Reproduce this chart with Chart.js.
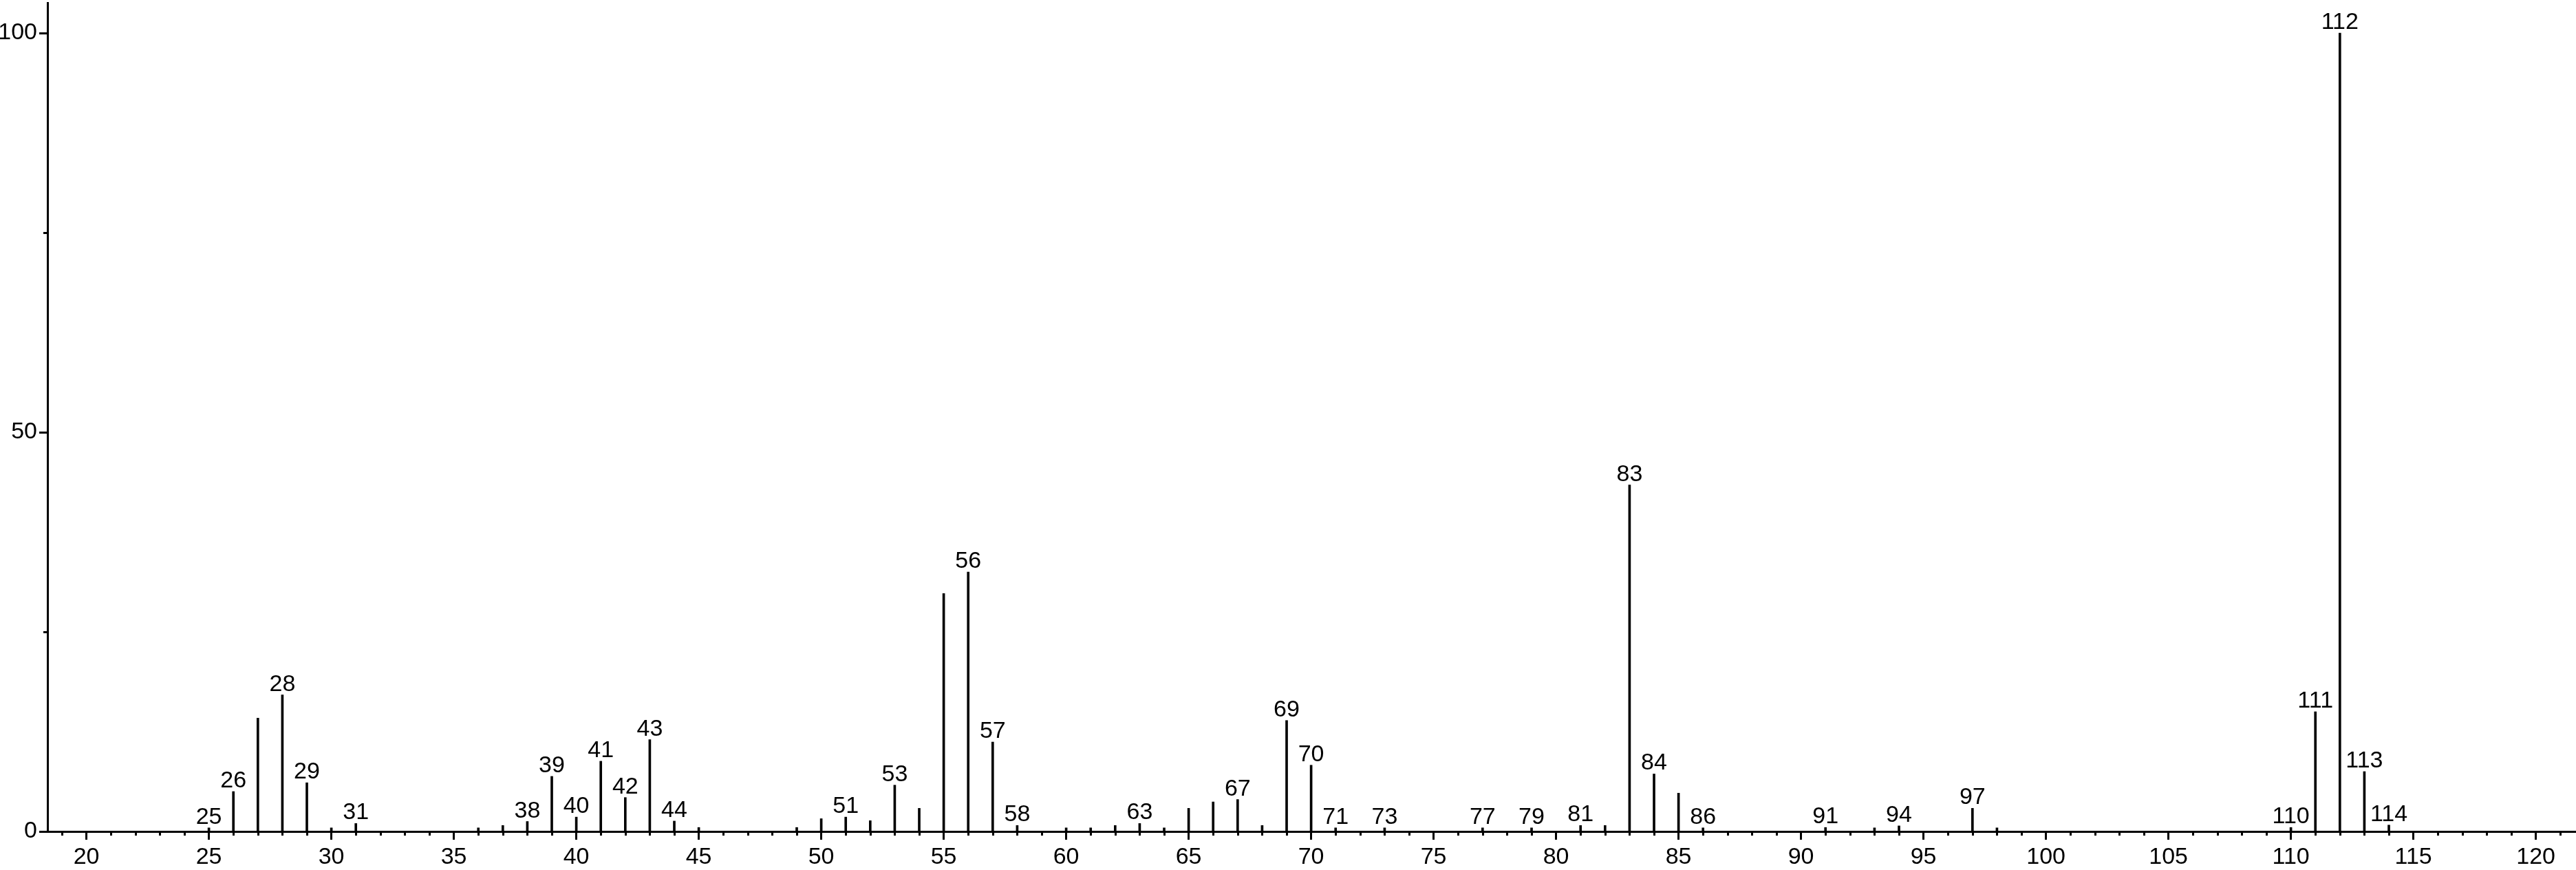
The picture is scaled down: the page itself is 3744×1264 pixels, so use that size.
<!DOCTYPE html>
<html>
<head>
<meta charset="utf-8">
<script src="https://cdn.jsdelivr.net/npm/chart.js@4.4.0/dist/chart.umd.min.js"></script>
<style>
  html, body { margin: 0; padding: 0; background: #fff; }
</style>
</head>
<body>
<canvas id="spectrum" width="3744" height="1264"></canvas>
<script>
// m/z values and relative intensities
const masses = [
  25, 26, 27, 28, 29, 30, 31, 36, 37, 38, 39, 40, 41, 42, 43, 44, 45,
  49, 50, 51, 52, 53, 54, 55, 56, 57, 58, 60, 61, 62, 63, 64, 65, 66, 67, 68,
  69, 70, 71, 73, 77, 79, 81, 82, 83, 84, 85, 86, 91, 93, 94, 97, 98,
  110, 111, 112, 113, 114
];
const intensities = [
  0.45, 5.0, 14.2, 17.1, 6.1, 0.45, 1.0, 0.45, 0.75, 1.25, 6.9, 1.8, 8.8, 4.25, 11.5, 1.3, 0.5,
  0.5, 1.6, 1.8, 1.35, 5.8, 2.9, 29.8, 32.5, 11.2, 0.75, 0.45, 0.45, 0.75, 1.0, 0.45, 2.9, 3.7, 4.0, 0.75,
  13.9, 8.3, 0.45, 0.45, 0.45, 0.45, 0.75, 0.75, 43.4, 7.2, 4.8, 0.45, 0.5, 0.45, 0.7, 2.9, 0.45,
  0.5, 15.0, 100, 7.5, 0.8
];
// peaks that carry a mass label above them
const labelledMasses = [
  25, 26, 28, 29, 31, 38, 39, 40, 41, 42, 43, 44, 51, 53, 56, 57, 58, 63, 67,
  69, 70, 71, 73, 77, 79, 81, 83, 84, 86, 91, 94, 97, 110, 111, 112, 113, 114
];
const xTickLabels = [20, 25, 30, 35, 40, 45, 50, 55, 60, 65, 70, 75, 80, 85, 90, 95, 100, 105, 110, 115, 120];
const yTickLabels = [0, 50, 100];
const yMinorTicks = [25, 75];

const FONT = '"Liberation Sans", Arial, sans-serif';

const minorTicks = {
  id: 'minorTicks',
  afterDraw(chart) {
    const { ctx, scales: { x, y } } = chart;
    ctx.save();
    ctx.strokeStyle = '#000';
    ctx.lineWidth = 3;
    ctx.beginPath();
    for (let v = Math.ceil(x.min); v <= x.max; v++) {
      if (v % 5 === 0) continue;
      const px = Math.round(x.getPixelForValue(v)) + 0.5;
      ctx.moveTo(px, x.top);
      ctx.lineTo(px, x.top + 6);
    }
    yMinorTicks.forEach(v => {
      const py = Math.round(y.getPixelForValue(v)) + 0.5;
      ctx.moveTo(y.right - 6, py);
      ctx.lineTo(y.right, py);
    });
    ctx.stroke();
    ctx.restore();
  }
};

const peakLabels = {
  id: 'peakLabels',
  afterDatasetsDraw(chart) {
    const { ctx, scales: { x, y } } = chart;
    ctx.save();
    ctx.font = '34px ' + FONT;
    ctx.textAlign = 'center';
    ctx.textBaseline = 'alphabetic';
    ctx.fillStyle = '#000';
    labelledMasses.forEach(m => {
      const i = masses.indexOf(m);
      ctx.fillText(String(m), x.getPixelForValue(m), y.getPixelForValue(intensities[i]) - 6);
    });
    ctx.restore();
  }
};

new Chart(document.getElementById('spectrum'), {
  type: 'bar',
  data: {
    datasets: [{
      data: masses.map((m, i) => ({ x: m, y: intensities[i] })),
      backgroundColor: '#000',
      borderWidth: 0,
      barThickness: 3
    }]
  },
  options: {
    responsive: false,
    animation: false,
    devicePixelRatio: 1,
    layout: { padding: { top: 4, left: 0, right: 0, bottom: 0 } },
    plugins: { legend: { display: false }, tooltip: { enabled: false } },
    scales: {
      x: {
        type: 'linear',
        min: 18.41,
        max: 121.64,
        offset: false,
        afterFit: s => { s.height = 56; s.paddingLeft = 0; s.paddingRight = 0; },
        afterBuildTicks: s => { s.ticks = xTickLabels.map(v => ({ value: v })); },
        grid: { offset: false, drawOnChartArea: false, drawTicks: true, tickLength: 12, tickWidth: 3, tickColor: '#000' },
        border: { display: true, color: '#000', width: 3 },
        ticks: { color: '#000', font: { family: FONT, size: 34 }, padding: 5, maxRotation: 0, autoSkip: false }
      },
      y: {
        min: 0,
        max: 103.8,
        afterFit: s => { s.width = 69; s.paddingTop = 0; s.paddingBottom = 0; },
        afterBuildTicks: s => { s.ticks = yTickLabels.map(v => ({ value: v })); },
        grid: { drawOnChartArea: false, drawTicks: true, tickLength: 12, tickWidth: 3, tickColor: '#000' },
        border: { display: true, color: '#000', width: 3 },
        ticks: { color: '#000', font: { family: FONT, size: 34 }, padding: 3 }
      }
    }
  },
  plugins: [minorTicks, peakLabels]
});
</script>
</body>
</html>
